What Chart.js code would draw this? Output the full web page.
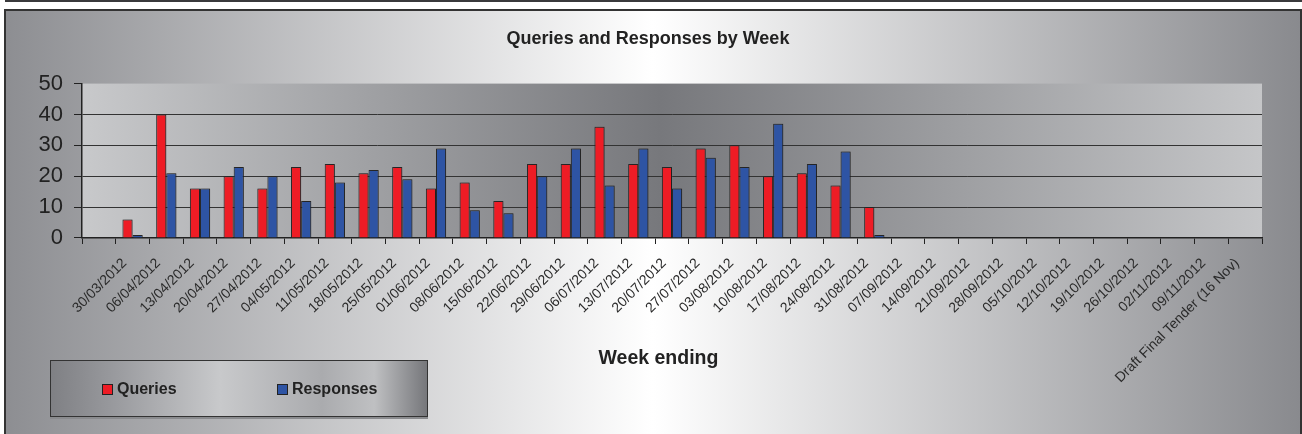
<!DOCTYPE html>
<html>
<head>
<meta charset="utf-8">
<title>Queries and Responses by Week</title>
<script src="https://cdn.jsdelivr.net/npm/chart.js@4.4.1/dist/chart.umd.min.js"></script>
<style>
  html, body { margin: 0; padding: 0; background: #fff; }
  #wrap { position: relative; width: 1302px; height: 434px; overflow: hidden; }
  #legend {
    position: absolute; left: 50px; top: 360px; width: 376px; height: 55px;
    border: 1px solid #333;
    box-shadow: 0 2px 0 #8a8b8e;
    background: linear-gradient(to right, #7f8084 0%, #96979b 15%, #c8c9cb 45%, #aaabae 72%, #bfc0c2 86%, #76777b 100%);
    font: bold 16px 'Liberation Sans', Arial, sans-serif; color: #222;
  }
  #legend .item { position: absolute; top: 19px; display: flex; align-items: center; }
  #legend .swatch { width: 9px; height: 9px; border: 1px solid #222; margin-right: 4px; }
</style>
</head>
<body>
<div id="wrap">
  <canvas id="chart" width="1302" height="434"></canvas>
  <div id="legend"></div>
</div>
<script>
var weeks = ['', '30/03/2012', '06/04/2012', '13/04/2012', '20/04/2012', '27/04/2012', '04/05/2012',
  '11/05/2012', '18/05/2012', '25/05/2012', '01/06/2012', '08/06/2012', '15/06/2012', '22/06/2012',
  '29/06/2012', '06/07/2012', '13/07/2012', '20/07/2012', '27/07/2012', '03/08/2012', '10/08/2012',
  '17/08/2012', '24/08/2012', '31/08/2012', '07/09/2012', '14/09/2012', '21/09/2012', '28/09/2012',
  '05/10/2012', '12/10/2012', '19/10/2012', '26/10/2012', '02/11/2012', '09/11/2012',
  'Draft Final Tender (16 Nov)']
var queries = [null, 6, 40, 16, 20, 16, 23, 24, 21, 23, 16, 18, 12, 24, 24, 36, 24, 23, 29, 30, 20, 21, 17, 10,
  null, null, null, null, null, null, null, null, null, null, null]
var responses = [null, 1, 21, 16, 23, 20, 12, 18, 22, 19, 29, 9, 8, 20, 29, 17, 29, 16, 26, 23, 37, 24, 28, 1,
  null, null, null, null, null, null, null, null, null, null, null]
var yTicks = [0, 10, 20, 30, 40, 50]

var font = "'Liberation Sans', Arial, Helvetica, sans-serif"
var red = '#ee1c25'
var blue = '#2e54a4'

// grey gradients behind the whole chart and the plot area
var backdrop = {
    id: 'backdrop',
    beforeDraw: (chart) => {
        var ctx = chart.ctx
        var a = chart.chartArea
        ctx.save()
        ctx.fillStyle = '#fff'
        ctx.fillRect(0, 0, chart.width, chart.height)
        ctx.fillStyle = '#3a3a3c'
        ctx.fillRect(5, 0, chart.width - 5, 2)
        var g = ctx.createLinearGradient(6, 0, 1300, 0)
        g.addColorStop(0, '#8d8e92')
        g.addColorStop(0.5, '#ffffff')
        g.addColorStop(1, '#898a8e')
        ctx.fillStyle = g
        ctx.fillRect(6, 11, 1294, chart.height - 11)
        ctx.strokeStyle = '#333'
        ctx.lineWidth = 2
        ctx.strokeRect(5, 10, 1296, chart.height + 5)
        var g2 = ctx.createLinearGradient(a.left, 0, a.right, 0)
        g2.addColorStop(0, '#c8c9cb')
        g2.addColorStop(0.49, '#77787c')
        g2.addColorStop(1, '#c5c6c8')
        ctx.fillStyle = g2
        ctx.fillRect(a.left, a.top, a.width, a.height)
        ctx.restore()
    }
}

var barShadow = {
    id: 'barShadow',
    beforeDatasetsDraw: (chart) => {
        var ctx = chart.ctx
        ctx.save()
        ctx.shadowColor = 'rgba(0,0,0,0.35)'
        ctx.shadowBlur = 3
        ctx.shadowOffsetX = 1
        ctx.shadowOffsetY = 0
    },
    afterDatasetsDraw: (chart) => {
        chart.ctx.restore()
    }
}

var chart = new Chart(document.getElementById('chart').getContext('2d'), {
    type: 'bar',
    data: {
        labels: weeks,
        datasets: [
            {
                label: 'Queries',
                data: queries,
                backgroundColor: red,
                borderColor: '#2a2a2a',
                borderWidth: 1,
                categoryPercentage: 0.6,
                barPercentage: 1
            },
            {
                label: 'Responses',
                data: responses,
                backgroundColor: blue,
                borderColor: '#2a2a2a',
                borderWidth: 1,
                categoryPercentage: 0.6,
                barPercentage: 1
            }
        ]
    },
    options: {
        responsive: false,
        animation: false,
        layout: { padding: { left: 34, right: 40, top: 0, bottom: 0 } },
        plugins: {
            legend: { display: false },
            tooltip: { enabled: false },
            title: {
                display: true,
                text: 'Queries and Responses by Week',
                color: '#222',
                font: { family: font, size: 18, weight: 'bold' },
                padding: { top: 28, bottom: 34 }
            }
        },
        scales: {
            x: {
                grid: { drawOnChartArea: false, tickLength: 6, color: '#222', offset: true },
                border: { color: '#222', width: 1.5 },
                ticks: {
                    autoSkip: false,
                    minRotation: 45,
                    maxRotation: 45,
                    color: '#2a2a2a',
                    padding: 11,
                    labelOffset: -8,
                    font: { family: font, size: 14 }
                },
                title: {
                    display: true,
                    // trailing spaces pull the centred title a bit to the left, like the original
                    text: 'Week ending     ',
                    color: '#222',
                    font: { family: font, size: 19.5, weight: 'bold' },
                    padding: { top: 0, bottom: 64 }
                },
                afterFit: (s) => { s.height = 196 }
            },
            y: {
                min: yTicks[0],
                max: yTicks[yTicks.length - 1],
                afterBuildTicks: (s) => { s.ticks = yTicks.map(v => ({ value: v })) },
                ticks: { color: '#222', padding: 11, font: { family: font, size: 22 } },
                grid: {
                    color: (c) => c.tick && c.tick.value === 50 ? 'rgba(0,0,0,0)' : '#333',
                    tickColor: '#222',
                    tickLength: 8
                },
                border: { color: '#222', width: 1.5 },
                afterFit: (s) => { s.width = 48 }
            }
        }
    },
    plugins: [backdrop, barShadow]
})

// html legend built from the datasets
var legend = document.getElementById('legend')
var legendLeft = [51, 226]
chart.data.datasets.forEach((ds, i) => {
    var item = document.createElement('div')
    item.className = 'item'
    item.style.left = legendLeft[i] + 'px'
    var sw = document.createElement('span')
    sw.className = 'swatch'
    sw.style.background = ds.backgroundColor
    var txt = document.createElement('span')
    txt.textContent = ds.label
    item.appendChild(sw)
    item.appendChild(txt)
    legend.appendChild(item)
})
</script>
</body>
</html>
